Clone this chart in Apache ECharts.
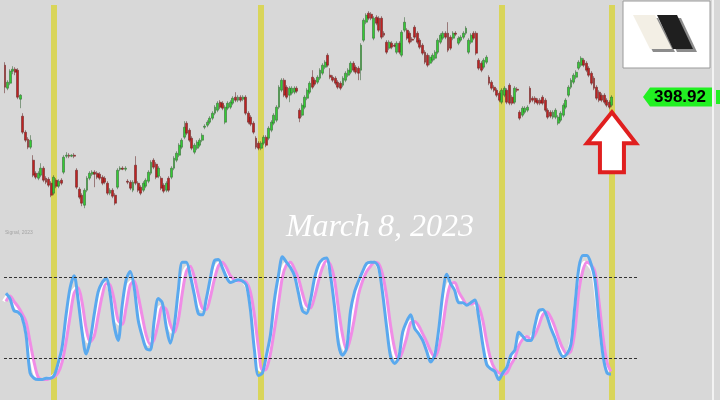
<!DOCTYPE html>
<html><head><meta charset="utf-8">
<script src="https://cdn.jsdelivr.net/npm/echarts@6/dist/echarts.min.js"></script>
<style>html,body{margin:0;padding:0;background:#d8d8d8}#c{width:720px;height:400px}</style>
</head><body><div id="c"></div>
<script>
// [open, close, low, high]
const candles = [
[402.1,399.9,399.3,402.4],[399.8,400.4,399.6,400.6],[400.3,401.5,400.1,401.7],[401.5,401.7,401.2,402.0],[401.7,401.4,401.1,401.9],
[401.6,398.9,398.7,401.8],[398.7,399.1,397.8,399.2],[397.0,395.4,395.2,397.3],[395.4,394.6,394.4,395.6],[394.7,393.9,393.7,394.9],
[393.9,394.6,393.7,395.1],[392.6,391.1,390.9,393.1],[391.3,390.9,390.7,391.5],[390.8,391.3,390.6,391.5],[391.1,391.8,390.9,392.3],
[391.8,390.6,390.4,392.0],[390.8,390.4,390.2,391.0],[390.7,390.1,389.9,390.9],[390.3,389.1,388.9,390.5],[389.3,390.9,389.1,391.1],
[390.6,390.0,389.8,390.8],[390.0,390.5,389.8,390.7],[390.6,390.3,390.1,390.8],[391.4,392.9,391.2,393.1],[393.0,393.1,392.8,393.4],
[393.1,393.0,392.8,393.3],[393.0,393.1,392.9,393.2],[393.1,393.0,392.8,393.3],[391.6,389.9,389.7,391.8],[389.7,388.9,388.7,389.9],
[389.1,388.3,388.0,389.3],[388.1,389.6,387.8,389.8],[389.6,390.8,389.4,391.0],[390.8,391.3,390.6,391.5],[391.2,391.4,391.0,391.6],
[391.4,391.2,389.9,391.6],[391.3,390.9,390.7,391.5],[391.2,390.8,390.6,391.4],[390.9,390.3,390.1,391.1],[390.8,390.4,390.2,391.0],
[390.3,389.3,389.1,390.5],[389.3,389.6,389.1,389.8],[389.6,389.0,388.8,389.8],[389.1,388.3,388.1,389.3],[389.9,391.6,389.7,391.8],
[391.7,391.8,391.5,392.0],[391.8,391.7,391.6,392.0],[391.7,391.8,391.5,392.0],[390.5,390.4,390.2,390.7],[390.4,389.8,389.6,390.6],
[389.6,390.4,389.4,390.6],[392.1,390.3,390.1,393.0],[390.3,389.6,389.4,390.5],[389.9,389.3,389.1,390.1],[389.6,390.3,389.4,390.5],
[390.0,390.6,389.8,390.8],[390.5,391.4,390.3,391.6],[391.3,392.4,391.1,392.6],[392.6,391.9,391.7,392.8],[392.2,390.9,390.7,392.4],
[391.0,391.8,390.8,392.0],[390.8,389.8,389.6,391.0],[390.1,389.5,389.3,390.3],[389.6,390.3,389.4,390.5],[390.8,389.6,389.4,391.0],
[390.9,391.8,390.7,392.0],[391.8,392.8,391.6,393.0],[392.6,393.3,392.4,393.5],[393.1,394.1,392.9,394.3],[393.9,394.6,393.7,394.8],
[394.9,395.9,394.7,396.5],[396.3,395.3,395.1,396.5],[395.6,394.6,394.4,395.8],[394.8,393.8,393.6,395.0],[393.4,394.1,393.2,394.3],
[393.8,394.4,393.6,394.6],[394.1,394.6,393.9,394.8],[394.6,395.1,394.4,395.3],[395.9,396.0,395.7,396.2],[396.1,396.4,395.9,396.6],
[396.4,396.8,396.2,397.0],[396.8,397.3,396.6,397.5],[397.3,397.9,397.1,398.1],[397.6,398.3,397.4,398.5],[398.4,397.9,397.7,398.6],
[398.3,397.8,397.6,398.5],[396.4,397.9,396.2,398.1],[397.8,398.3,397.6,398.5],[397.9,398.4,397.7,398.6],[398.3,398.8,398.1,399.0],
[398.9,398.6,398.4,399.4],[398.6,398.9,398.4,399.1],[398.9,398.6,398.4,399.1],[398.7,398.9,398.5,399.1],[398.9,397.3,397.1,399.1],
[397.3,396.4,396.2,397.5],[396.9,396.2,396.0,397.1],[396.3,395.4,395.2,396.5],[394.8,393.9,393.7,395.0],[394.3,393.8,393.6,394.5],
[393.8,394.3,393.6,394.5],[394.3,394.9,394.1,395.1],[394.9,394.1,393.9,395.1],[394.8,395.8,394.6,396.0],[395.6,396.4,395.4,396.6],
[396.3,397.1,396.1,397.3],[396.6,397.9,396.4,398.1],[397.9,399.9,397.7,400.1],[399.6,400.6,399.4,400.8],[400.6,399.1,398.9,400.8],
[399.9,398.9,398.7,400.1],[399.1,399.8,398.4,400.0],[399.3,399.8,399.1,400.0],[399.4,399.8,399.2,400.0],[399.8,399.5,399.3,400.0],
[397.6,396.8,396.4,397.8],[397.1,398.1,396.9,398.3],[397.9,398.9,397.7,399.1],[398.8,399.6,398.6,399.8],[399.4,400.3,399.2,400.5],
[400.9,399.9,399.7,401.6],[400.6,400.2,400.0,400.8],[400.4,400.9,400.2,401.1],[400.8,401.6,400.6,401.8],[401.3,402.1,401.1,402.3],
[401.9,402.4,401.7,402.6],[403.1,402.1,401.9,403.3],[401.1,400.9,400.7,401.8],[400.9,400.6,400.4,401.1],[400.8,400.3,400.1,401.0],
[400.4,399.9,399.7,400.6],[400.3,399.8,399.6,400.5],[400.1,400.8,399.9,401.0],[400.6,401.3,400.4,401.5],[401.1,401.6,400.9,401.8],
[401.4,402.3,401.2,402.5],[402.3,401.6,401.4,402.5],[401.9,401.4,401.2,402.1],[401.8,401.3,400.6,402.0],[401.6,404.1,400.6,404.3],
[404.6,406.6,404.4,406.8],[406.4,407.1,406.2,407.3],[407.3,406.8,406.6,407.5],[407.2,406.8,406.6,407.4],[404.8,406.8,404.6,407.0],
[406.9,406.3,406.1,407.1],[406.8,405.6,405.4,407.0],[406.8,404.9,404.7,407.0],[405.3,405.1,404.9,405.5],[404.4,403.4,403.2,404.6],
[403.8,404.4,403.6,404.6],[404.3,403.9,403.7,404.5],[404.1,404.0,403.9,404.3],[403.4,404.3,403.2,404.5],[404.3,403.4,403.2,404.5],
[403.1,405.4,402.9,405.6],[405.6,406.4,405.4,406.9],[405.6,404.8,404.6,405.8],[405.3,404.4,404.2,405.5],[404.7,404.6,404.4,404.9],
[405.9,404.9,404.7,406.1],[405.3,404.4,404.2,405.5],[404.6,403.9,403.7,404.8],[404.1,403.3,403.1,404.3],[403.4,402.4,402.2,403.6],
[403.1,402.1,401.9,403.3],[402.3,402.9,402.1,403.1],[402.6,403.1,402.4,403.3],[402.8,403.4,402.6,403.6],[403.4,404.6,403.2,404.8],
[404.4,405.1,404.2,405.3],[404.8,405.3,404.6,405.5],[405.3,404.9,404.7,405.5],[405.3,403.6,403.4,406.4],[404.9,403.8,403.6,405.1],
[404.8,405.3,404.6,405.5],[405.3,405.2,405.0,405.5],[404.3,404.8,404.1,405.0],[404.6,404.9,404.4,405.1],[404.9,405.3,404.7,405.5],
[405.3,405.8,405.1,406.0],[403.4,404.6,403.2,404.8],[404.4,405.1,404.2,405.3],[405.3,404.8,404.6,405.5],[405.3,403.3,403.1,405.5],
[402.6,401.8,401.6,402.8],[402.3,401.6,401.4,402.5],[401.9,402.6,401.7,402.8],[402.4,402.9,402.2,403.1],[400.9,400.3,400.1,401.1],
[400.4,399.8,399.6,400.6],[399.9,399.6,399.4,400.1],[399.6,399.1,398.9,399.8],[399.3,398.6,398.4,399.5],[398.4,399.6,398.2,399.8],
[399.1,399.8,398.9,400.0],[399.6,398.4,398.2,399.8],[400.1,398.3,398.1,400.3],[398.9,398.3,398.1,399.1],[398.4,399.8,398.2,400.0],
[399.7,399.6,399.4,399.9],[397.4,396.8,396.6,397.6],[397.1,397.8,396.9,398.0],[397.4,397.8,397.2,398.0],[397.6,397.9,397.4,398.1],
[399.8,398.4,398.2,400.0],[398.8,398.6,398.4,399.0],[398.8,398.4,398.2,399.0],[398.6,398.3,398.1,398.8],[398.6,398.3,398.1,398.8],
[398.9,398.3,398.1,399.1],[398.6,397.6,397.4,398.8],[397.6,396.9,396.7,397.8],[397.4,397.0,396.8,397.6],[396.9,397.4,396.7,397.6],
[396.9,397.6,396.7,397.8],[396.3,396.9,396.1,397.1],[396.6,397.3,396.4,397.5],[397.1,398.1,396.9,398.3],[397.9,398.6,397.7,398.8],
[399.1,399.9,398.9,400.1],[399.9,400.6,399.7,400.8],[400.4,401.1,400.2,401.3],[400.9,401.4,400.7,401.6],[401.8,402.4,401.6,402.6],
[402.1,402.8,401.9,403.0],[402.6,402.1,401.9,402.8],[402.3,401.6,401.4,402.5],[401.8,401.1,400.9,402.0],[401.3,400.3,400.1,401.5],
[400.8,399.8,399.6,401.0],[399.9,398.8,398.6,400.1],[399.4,398.6,398.4,399.6],[399.1,398.6,398.4,399.3],[399.1,398.4,398.2,399.3],
[398.6,398.1,397.9,398.8],[398.4,397.9,397.7,398.6],[398.1,398.92,397.9,399.1]
];
const stochK = [68,64,55,54,50,37,9,5,4,4, 5,5,7,16,28,52,72,81,63,39, 23,33,52,69,76,79,67,44,33,59,
 78,84,72,48,36,27,26,48,64,61, 43,31,44,70,91,91,81,67,53,52, 64,79,92,93,87,80,76,77,78,77,
 74,56,26,7,9,22,37,63,81,95, 91,87,81,68,55,53,63,79,89,93, 94,81,58,30,22,27,55,69,77,84,
 90,91,91,87,68,43,21,16,20,39, 47,52,42,38,33,25,17,22,41,67, 82,75,70,61,61,59,61,63,50,30,
 15,12,10,4,9,13,22,26,39,36, 33,33,44,55,56,51,42,35,26,21, 23,30,59,87,96,96,90,78,48,22, 9,8];
const stochD = [62,66,62,58,53,47,32,17,6,4, 4,5,6,9,17,32,51,68,72,61, 42,32,36,51,66,75,74,63,48,45,
 58,74,77,66,51,37,30,34,46,58, 56,45,39,48,68,84,88,80,67,57, 56,65,78,88,91,87,81,78,77,77,
 76,69,52,28,11,12,23,41,60,80, 89,91,86,79,68,59,57,65,77,87, 92,89,78,56,37,26,35,50,67,77,
 84,88,91,90,82,66,44,27,19,25, 35,46,47,44,38,32,25,21,27,43, 63,75,76,69,64,60,60,61,58,48,
 32,19,12,9,8,9,15,20,29,34, 36,34,37,44,52,54,50,43,34,27, 23,25,40,70,85,91,89,84,62,36, 17,10];
const levels = [80, 20];
const markerBars = [19, 100, 194, 237];
const dateLabel = 'March 8, 2023';
const sourceLabel = 'Signal, 2023';

const barLabels = candles.map((_, i) => String(i));
const stochLabels = Array.from({length: stochK.length + 6}, (_, i) => String(i));
const lastIdx = candles.length - 1;
const lastClose = candles[lastIdx][1];

const chart = echarts.init(document.getElementById('c'), null, {renderer: 'canvas'});
chart.setOption({
  animation: false,
  backgroundColor: '#d8d8d8',
  grid: [
    {left: 3.72, top: 5, width: 609.5, height: 395},
    {left: 4.0, top: 240, width: 633, height: 160}
  ],
  xAxis: [
    {type: 'category', gridIndex: 0, data: barLabels, show: false, boundaryGap: true},
    {type: 'category', gridIndex: 1, data: stochLabels, show: false, boundaryGap: true}
  ],
  yAxis: [
    {type: 'value', gridIndex: 0, min: 368.62, max: 408.12, show: false, splitLine: {show: false}},
    {type: 'value', gridIndex: 1, min: -11.1, max: 107.4, show: false, splitLine: {show: false}}
  ],
  series: [
    {
      type: 'candlestick', xAxisIndex: 0, yAxisIndex: 0, data: candles, z: 3,
      barWidth: 2.4,
      itemStyle: {color: '#33cc33', color0: '#c02222', borderColor: '#2a5a2a', borderColor0: '#5a1a1a', borderWidth: 0.5},
      markLine: {
        z: 1, silent: true, symbol: ['none', 'none'], label: {show: false},
        lineStyle: {color: '#d9d55a', width: 6, type: 'solid', opacity: 1},
        data: markerBars.map(i => ({xAxis: barLabels[i]}))
      }
    },
    {
      type: 'line', xAxisIndex: 1, yAxisIndex: 1, data: stochD, z: 3, smooth: 0.3,
      symbol: 'none',
      lineStyle: {color: '#f08ce6', width: 3, shadowColor: '#ffffff', shadowBlur: 0, shadowOffsetX: -2.4}
    },
    {
      type: 'line', xAxisIndex: 1, yAxisIndex: 1, data: stochK, z: 4, smooth: 0.3,
      symbol: 'none',
      lineStyle: {color: '#5aa9ee', width: 3},
      markLine: {
        silent: true, symbol: ['none', 'none'], label: {show: false},
        lineStyle: {color: '#333', width: 1, type: [3, 2]},
        data: levels.map(v => ({yAxis: v}))
      }
    }
  ]
});

const lastPt = chart.convertToPixel({xAxisIndex: 0, yAxisIndex: 0}, [barLabels[lastIdx], lastClose]);
const lowPt = chart.convertToPixel({xAxisIndex: 0, yAxisIndex: 0}, [barLabels[lastIdx], candles[lastIdx][2]]);
const cy = lastPt[1];
const ax = lastPt[0];
const tip = lowPt[1] + 5;

chart.setOption({
  graphic: [
    {type: 'line', shape: {x1: 713, y1: 0, x2: 713, y2: 400}, style: {stroke: '#f3f3f3', lineWidth: 2}, z: 10},
    {type: 'rect', shape: {x: 623, y: 1, width: 87, height: 67}, style: {fill: '#ffffff', stroke: '#9a9a9a', lineWidth: 1}, z: 10},
    {type: 'polygon', shape: {points: [[636,18],[658,18],[675,52],[653,52]]}, style: {fill: '#8c8c8c'}, z: 11},
    {type: 'polygon', shape: {points: [[633,15],[655,15],[672,49],[650,49]]}, style: {fill: '#f3efe5'}, z: 12},
    {type: 'polygon', shape: {points: [[661,18],[681,18],[697,52],[677,52]]}, style: {fill: '#8c8c8c'}, z: 11},
    {type: 'polygon', shape: {points: [[657,15],[677,15],[693,49],[673,49]]}, style: {fill: '#1f1f1f'}, z: 12},
    {type: 'polygon', shape: {points: [[643,cy],[650,cy-9.5],[712,cy-9.5],[712,cy+9.5],[650,cy+9.5]]}, style: {fill: '#22f022'}, z: 10},
    {type: 'rect', shape: {x: 716, y: cy-7, width: 4, height: 14}, style: {fill: '#22f022'}, z: 10},
    {type: 'text', x: 680, y: cy, style: {text: lastClose.toFixed(2), font: 'bold 17px "Liberation Sans", Arial, sans-serif', fill: '#000', align: 'center', verticalAlign: 'middle'}, z: 11},
    {type: 'polygon', shape: {points: [[ax,tip],[ax+24,tip+31],[ax+12,tip+31],[ax+12,tip+60],[ax-12,tip+60],[ax-12,tip+31],[ax-25,tip+31]]},
      style: {fill: '#ffffff', stroke: '#e01f1f', lineWidth: 4, lineJoin: 'miter'}, z: 10},
    {type: 'text', x: 380, y: 228, style: {text: dateLabel, font: 'italic 32px "Liberation Serif", "DejaVu Serif", serif', fill: '#ffffff', align: 'center', verticalAlign: 'middle'}, z: 10},
    {type: 'text', x: 5, y: 233, style: {text: sourceLabel, font: '5px "Liberation Sans", sans-serif', fill: '#a5a5a5', align: 'left', verticalAlign: 'middle'}, z: 10}
  ]
});
</script>
</body></html>
